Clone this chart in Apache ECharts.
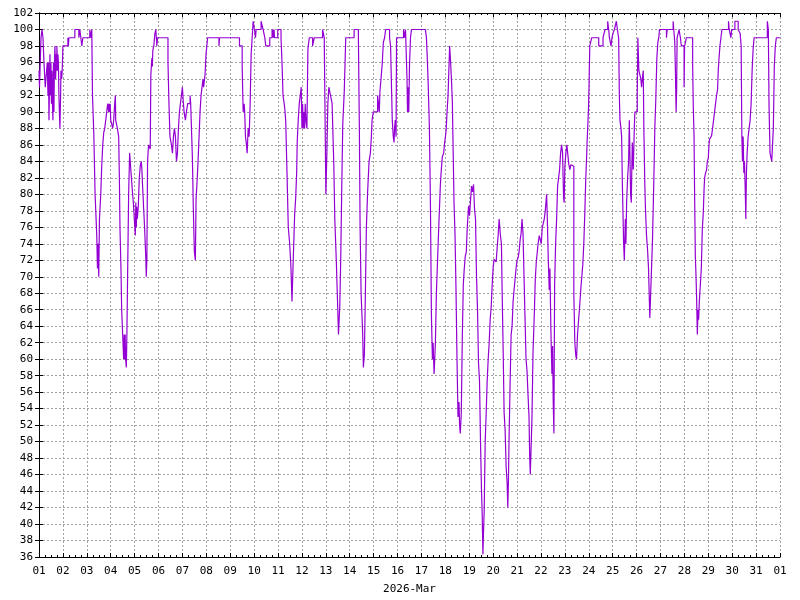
<!DOCTYPE html>
<html>
<head>
<meta charset="utf-8">
<style>
	html, body { margin: 0; padding: 0; background: #fff; }
	#chart { width: 800px; height: 600px; }
</style>
</head>
<body>
<div id="chart"></div>
<script src="https://cdn.jsdelivr.net/npm/echarts@6/dist/echarts.min.js"></script>
<script>
// hours since 2026-03-01 00:00, value holds until the next sample
var hours = [
	0, 0.5, 1, 2, 3, 4, 5, 6.3, 8.3, 9, 9.5, 10, 10.5, 11, 11.5, 12, 12.5, 13, 13.5, 14, 14.5, 15, 15.5, 16, 16.7, 17.2, 17.6, 18, 18.5, 19, 19.5, 20, 21, 21.7, 22, 22.7, 23.3, 24,
	29, 29.5, 30, 36, 40, 41, 43, 44, 51, 52, 53, 53.7, 55, 56.3, 57, 58, 58.7, 59.3, 60, 60.7, 62, 63, 64, 65, 66, 67, 68, 69, 70, 70.5, 71, 71.5, 72, 74, 75, 76, 76.7, 77, 78.7,
	80, 80.7, 81.3, 82.3, 83, 84, 85, 85.5, 86, 86.5, 87, 87.7, 88.3, 89, 90, 91, 93, 93.7, 94.7, 95.7, 96.7, 97.2, 97.7, 98.2, 98.7, 99.7, 100.7, 101.7, 102.7, 103.3, 104, 105, 106, 107, 107.3, 107.7, 108.3, 109, 110, 111.7,
	112.3, 113.3, 113.8, 114.3, 115.3, 116.3, 117.3, 118.3, 119, 129.5, 130.5, 131.5, 133, 134, 135, 136, 137, 138, 139, 140, 141, 142, 143, 144, 144.7, 145.7, 147, 148, 149.3, 151.7, 152.3, 154, 155, 156, 157, 157.7, 158.7, 159.7,
	160.7, 161.7, 162.7, 163.7, 164.7, 165.3, 166.7, 167.7, 169.3, 180.7, 181.3, 201.3, 204, 205, 206, 206.5, 207.3, 208.3, 209, 210, 211, 212, 213, 214, 215, 216.3, 217.4, 218, 223, 225, 226.7, 227.7, 231.7, 234, 234.5, 235, 235.5, 236, 236.5, 239.7,
	243, 244, 245, 246.7, 247.7, 249, 250.3, 251.7, 253, 254, 255, 256.7, 257.7, 258.7, 259.3, 260.3, 261.3, 262.3, 263.3, 264, 264.7, 265.3, 266, 266.7, 267.3, 268, 269, 270, 271.4, 274.7, 276.4, 284.7, 286.4, 287.4, 288, 289, 290, 291, 292.7, 294.3, 296, 297, 298.5,
	300, 300.7, 302, 303, 304, 305, 306.5, 308, 316.4, 320.7, 321.7, 322.4, 323.4, 325, 325.7, 326.7, 327.7, 328.7, 330, 331.4, 332.7, 333.7, 334.4, 335.7, 340, 341.7, 342.3, 343.4, 344.7, 345.7, 347, 348, 352, 353, 353.7, 354.7, 355.7, 356.5, 357, 357.7, 358.5, 359,
	366, 367, 368, 369.5, 370, 370.7, 371.3, 372, 373, 374, 388, 389, 389.7, 390.7, 392, 393, 394, 395, 395.7, 396.7, 398, 399, 401, 402, 403, 404, 405, 406.3, 407.3, 408.7, 409.7, 410.7, 411.7, 412.3, 413.3, 414, 415, 416, 416.7, 417.7, 418.7, 419.7,
	420.7, 421.7, 422.3, 423, 424, 425, 426, 427, 428, 429, 430, 431.3, 432.3, 433.3, 434.3, 435.3, 436.3, 437.3, 438.3, 439.3, 440.3, 441.3, 442.3, 443.3, 444.3, 445, 445.7, 446.3, 447, 448, 449, 450, 451, 452, 453, 454, 455, 456, 457, 459, 460, 461, 462, 463.3, 464.3,
	465, 466, 467, 468, 469, 470, 470.7, 471.3, 472, 473, 474, 475, 476, 477, 478, 479, 480, 481, 482, 483, 484, 485, 486, 487, 488, 489, 490, 491, 492, 492.7, 493.3, 495, 496, 497.3, 498.3, 499.3, 500.3, 501.3, 502.3, 504.3, 505.3, 507.3, 508.3, 509, 509.7,
	510.3, 511.3, 512.3, 513, 514, 515, 515.7, 516.3, 517, 517.7, 518.7, 519.7, 520.7, 521.7, 522.7, 523.7, 524.7, 525.7, 526.7, 527.3, 528, 529, 530, 532, 533, 534, 535.3, 537, 538, 539, 539.7, 540.7, 541.7, 543, 544, 545, 546, 547, 548, 549, 549.7, 550.3, 551, 551.7, 552.3, 553,
	555, 562, 566.3, 567.3, 568.3, 571, 572, 572.7, 574.3, 575.3, 576.3, 577.7, 579.7, 580.7, 582, 582.7, 583.3, 584.3, 585, 585.7, 586.3, 587, 587.7, 588.7, 589.3, 590, 591, 592, 592.7, 593.3, 594, 594.7, 595.2, 595.7, 596.7, 597.7, 598.3, 600.7, 601.3, 602.3, 604.3,
	605, 606, 606.7, 607.3, 608.3, 609, 610, 611, 612, 612.7, 613.3, 614, 615, 616, 617, 617.7, 618.3, 619.3, 620.3, 621.3, 622.3, 623, 630, 630.7, 636.7, 637.3, 638.3, 639, 639.7, 640.2, 640.7, 641.7, 642.7, 643.3, 644, 645, 647.7, 648.2, 649, 650,
	656.3, 657, 657.7, 658.3, 659, 659.7, 660.3, 661, 661.7, 662.3, 663, 664, 665, 666, 667, 667.7, 668.3, 669.3, 670.3, 671, 672, 672.7, 673.3, 674.3, 675.3, 676.3, 677.3, 678.3, 679.3, 680.3, 681.3, 682, 682.7, 683.7, 684.7, 685.7, 692.3, 693, 694.7, 695.5, 698.7,
	702, 704, 705, 705.7, 706.3, 707, 707.7, 708.3, 709, 709.7, 710.3, 711, 712, 713, 714, 715, 716, 717, 718, 731.3, 732.3, 733, 734, 735.7, 737.3, 738.3, 739.3, 740.3, 744
];
var values = [
	95, 93, 95, 99, 100, 99, 96, 93, 96, 92, 96, 89, 93, 97, 92, 96, 91, 95, 91, 89, 96, 90, 96, 98, 94, 97, 95, 98, 95, 97, 96, 92, 88, 92, 95, 94, 95, 98,
	99, 98, 99, 100, 99, 100, 98, 99, 100, 99, 100, 92, 87.5, 80, 78, 75, 71, 74, 70, 77, 80, 83.5, 86, 87.5, 88, 89, 90, 91, 90, 91, 90, 91, 89, 88, 89, 91, 92, 89, 88,
	87, 82, 76, 71, 66, 63, 60, 63, 60, 63, 60, 59, 63.5, 70.5, 80, 85, 85, 80.5, 79, 77, 75, 79, 76, 78.5, 77, 78.5, 82, 83.5, 84, 83, 81, 78.5, 76, 73, 72, 70, 72, 84, 86, 85.5,
	94.5, 96.5, 95.5, 97.5, 98, 99.5, 100, 98, 99, 96, 91, 87, 86, 85, 87, 88, 87, 84, 85, 88, 90, 91, 92, 93, 91.5, 90, 89, 90, 91, 92, 91, 84.5, 78, 73, 72, 79.5, 81.5, 84,
	87, 90, 92, 93, 94, 93, 94.5, 97, 99, 98, 99, 98, 95.5, 90, 91, 90, 87, 86, 85, 88, 87, 91, 97, 99, 101, 100, 99, 100, 101, 100, 99, 98, 99, 100, 99, 100, 99, 100, 99, 100,
	99, 96, 92, 90.5, 89, 82.6, 76, 74, 71, 67, 71, 77.6, 79.5, 82.6, 86.5, 89, 91, 92, 93, 88, 91, 88, 90, 88, 91, 89, 88, 97.6, 99, 98, 99, 100, 99, 87.5, 80, 84.7, 91, 93, 92, 91, 83.6, 77, 72,
	66, 63, 66.5, 72.5, 81, 88.5, 92.5, 99, 100, 99, 87.5, 76, 68, 63, 59, 60.6, 68, 76, 80.4, 84, 85, 87, 89, 90, 92, 90, 92.5, 94, 96, 98.4, 99, 100, 99, 98, 94.3, 89, 87, 86.3, 88, 89, 87, 99,
	100, 99, 100, 94, 90, 93, 90, 95.7, 99, 100, 100, 99, 97, 93.7, 88, 79, 65.4, 60, 62, 58.2, 62, 68, 74.8, 78, 81.2, 83.1, 84.6, 85, 86.3, 87.6, 90, 92, 95.7, 98, 96, 94.2, 91.4, 84, 79, 75.2, 68.4, 60,
	53, 54.8, 52, 51, 53.5, 62.5, 69, 71, 72.5, 73, 76, 78.6, 77.4, 79.3, 81, 80.3, 81.2, 78.2, 77, 70, 66, 59.5, 57.4, 50, 44, 41.2, 36.3, 39, 41.6, 50, 53.5, 57.4, 60, 62, 64.8, 66.3, 69, 71.2, 72.1, 71.8, 73.5, 75, 77, 75, 74,
	68.4, 61.4, 53.5, 51.4, 47, 45, 42, 45, 50.6, 57, 62.9, 64, 67, 68.4, 69.7, 71, 72, 72.3, 73, 74.4, 75.2, 77, 75.2, 70, 65, 60, 58.6, 55.7, 53, 48, 46, 53, 60.8, 65.4, 69.7, 71.8, 73, 74.2, 75, 74, 76, 77, 78, 79, 80,
	77.4, 72.3, 68.4, 71, 63.3, 58.2, 61.6, 54.8, 51, 69, 74, 77, 81, 82, 83, 85, 86, 85, 79.6, 79, 83.4, 85, 86, 83.6, 83, 83.6, 83.4, 68, 62, 60.4, 60, 63, 64.6, 66.7, 68.5, 70, 71.5, 74, 77.6, 82, 84, 86.3, 88.3, 90.3, 93.5, 98,
	99, 98, 99, 99.5, 100, 101, 100, 99, 98, 99, 99.5, 100, 101, 100, 99, 92, 89, 88, 87, 81.4, 78, 74, 72, 77, 74, 79, 82, 84, 89, 85, 80, 79, 83, 86.3, 83, 88, 90, 92.3, 99, 95, 94,
	93, 94.3, 95, 88, 81, 78, 75, 73.3, 71, 67.7, 65, 67.5, 71, 74.5, 80, 84, 88, 91.5, 96.4, 98.4, 99, 100, 99, 100, 101, 100, 98.6, 95, 90, 92.5, 99, 99.5, 100, 99.5, 99, 98, 93, 98, 98.4, 99,
	95.6, 90.3, 87, 79.6, 72.5, 70, 67.3, 63, 66, 64.8, 67, 69, 71, 75.8, 77.8, 80.4, 82, 82.6, 83, 84, 84.4, 86, 86.7, 86.9, 87.1, 88, 89, 90, 91, 92, 92.7, 95, 96.4, 98, 99, 100, 101, 100, 99, 100, 101,
	100, 99.5, 98, 87, 84, 87, 82.6, 84, 81, 77, 82.6, 85, 87, 88, 89, 91, 95, 97.6, 99, 101, 100, 90.7, 85, 84, 88, 95.6, 98, 99, 99
];
var dayLabels = ['01','02','03','04','05','06','07','08','09','10','11','12','13','14','15','16',
	'17','18','19','20','21','22','23','24','25','26','27','28','29','30','31','01'];
var monthTitle = '2026-Mar';

var points = hours.map(function (h, i) { return [h, values[i]]; });

var chart = echarts.init(document.getElementById('chart'));
var font = { fontFamily: 'DejaVu Sans Mono', fontSize: 11, color: '#000' };
var dash = { color: '#a0a0a0', type: [2, 2], width: 1 };
var blackLine = { lineStyle: { color: '#000', width: 1 } };

chart.setOption({
	animation: false,
	backgroundColor: '#fff',
	grid: { left: 39, right: 20, top: 13, bottom: 40 },
	xAxis: [
		{
			type: 'value', min: 0, max: 744, interval: 24, position: 'bottom',
			name: monthTitle, nameLocation: 'middle', nameGap: 27,
			nameTextStyle: font,
			axisLine: blackLine,
			axisTick: { inside: true, length: 4, lineStyle: { color: '#000' } },
			minorTick: { show: true, splitNumber: 4, length: 2, lineStyle: { color: '#000' } },
			axisLabel: Object.assign({ margin: 9, formatter: function (v) { return dayLabels[v / 24]; } }, font),
			splitLine: { show: true, lineStyle: dash }
		},
		{
			type: 'value', min: 0, max: 744, interval: 24, position: 'top',
			axisLine: blackLine,
			axisTick: { inside: true, length: 4, lineStyle: { color: '#000' } },
			minorTick: { show: true, splitNumber: 4, length: 2, lineStyle: { color: '#000' } },
			axisLabel: { show: false },
			splitLine: { show: false }
		}
	],
	yAxis: [
		{
			type: 'value', min: 36, max: 102, interval: 2, position: 'left',
			axisLine: blackLine,
			axisTick: { inside: true, length: 4, lineStyle: { color: '#000' } },
			axisLabel: Object.assign({ margin: 6 }, font),
			splitLine: { show: true, lineStyle: dash }
		},
		{
			type: 'value', min: 36, max: 102, interval: 2, position: 'right',
			axisLine: blackLine,
			axisTick: { inside: true, length: 4, lineStyle: { color: '#000' } },
			axisLabel: { show: false },
			splitLine: { show: false }
		}
	],
	series: [
		{
			type: 'line',
			step: 'end',
			data: points,
			showSymbol: false,
			lineStyle: { color: '#9400d3', width: 1.2 },
			itemStyle: { color: '#9400d3' }
		}
	]
});
</script>
</body>
</html>
